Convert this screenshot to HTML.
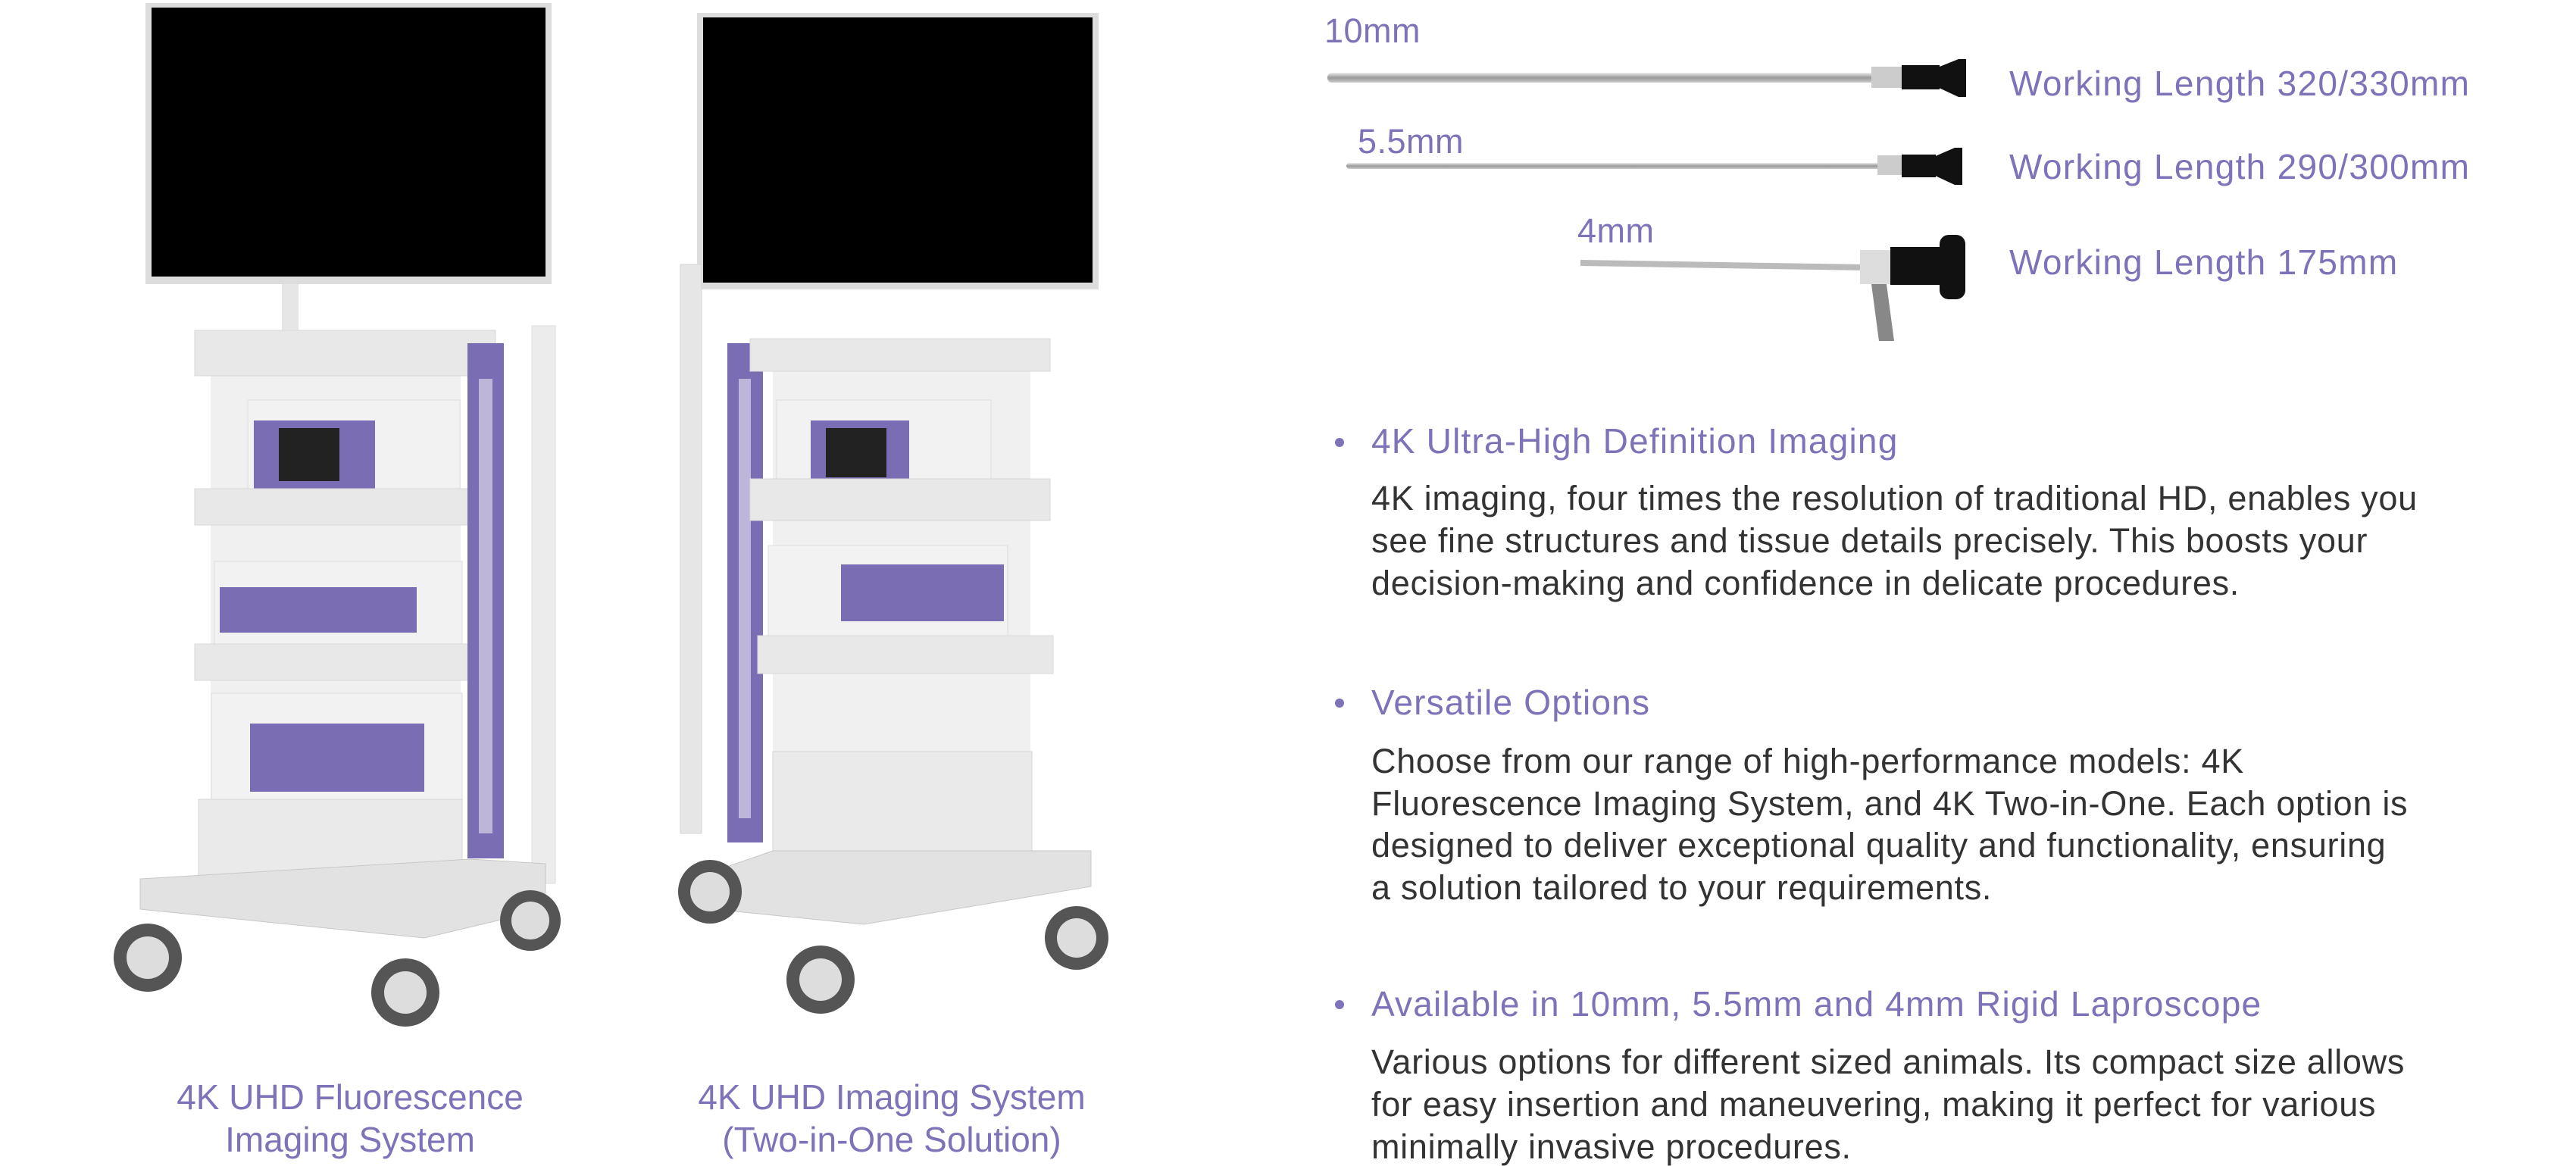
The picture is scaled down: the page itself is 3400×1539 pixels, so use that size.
<!DOCTYPE html>
<html><head><meta charset="utf-8"><style>
html,body{margin:0;padding:0;background:#fff;}
body{width:3400px;height:1533px;position:relative;overflow:hidden;font-family:"Liberation Sans",sans-serif;}
.t{position:absolute;white-space:nowrap;line-height:1;}
.p{color:#7e72b8;}
.b{color:#333;font-size:45px;letter-spacing:0.7px;}
.h{font-size:46px;letter-spacing:1.2px;}
.w{font-size:46px;letter-spacing:1.3px;}
.dot{position:absolute;width:12px;height:12px;border-radius:50%;background:#7e72b8;}
svg{position:absolute;left:0;top:0;}
</style></head><body>
<svg width="3400" height="1533" viewBox="0 0 3400 1533">
<defs>
<linearGradient id="sh" x1="0" y1="0" x2="0" y2="1"><stop offset="0" stop-color="#eee"/><stop offset=".5" stop-color="#999"/><stop offset="1" stop-color="#ccc"/></linearGradient>
</defs>
<!-- cart 1 -->
<rect x="192" y="4" width="536" height="371" fill="#ddd"/>
<rect x="200" y="10" width="520" height="355" fill="#000"/>
<rect x="372" y="375" width="22" height="70" fill="#e6e6e6"/>
<rect x="702" y="430" width="31" height="736" fill="#ececec" stroke="#ddd"/>
<rect x="278" y="470" width="330" height="680" fill="#f0f0f0"/>
<rect x="257" y="436" width="397" height="60" fill="#e8e8e8" stroke="#d8d8d8"/>
<rect x="327" y="528" width="280" height="137" fill="#f2f2f2" stroke="#ddd"/>
<rect x="335" y="555" width="160" height="100" fill="#7b6db3"/>
<rect x="368" y="565" width="80" height="70" fill="#222"/>
<rect x="257" y="645" width="375" height="48" fill="#e8e8e8" stroke="#d8d8d8"/>
<rect x="283" y="741" width="327" height="131" fill="#f2f2f2" stroke="#ddd"/>
<rect x="290" y="775" width="260" height="60" fill="#7b6db3"/>
<rect x="257" y="850" width="375" height="48" fill="#e8e8e8" stroke="#d8d8d8"/>
<rect x="279" y="915" width="331" height="142" fill="#f2f2f2" stroke="#ddd"/>
<rect x="330" y="955" width="230" height="90" fill="#7b6db3"/>
<rect x="262" y="1055" width="348" height="133" fill="#eaeaea" stroke="#d6d6d6"/>
<rect x="617" y="453" width="48" height="680" fill="#7b6db3"/>
<rect x="632" y="500" width="18" height="600" fill="#fff" opacity=".5"/>
<polygon points="185,1160 620,1134 720,1140 720,1200 560,1238 185,1200" fill="#e2e2e2" stroke="#c8c8c8"/>
<g fill="#555"><circle cx="195" cy="1264" r="45"/><circle cx="535" cy="1310" r="45"/><circle cx="700" cy="1215" r="40"/></g>
<g fill="#ddd"><circle cx="195" cy="1264" r="28"/><circle cx="535" cy="1310" r="28"/><circle cx="700" cy="1215" r="25"/></g>
<!-- cart 2 -->
<rect x="920" y="17" width="530" height="365" fill="#ddd"/>
<rect x="928" y="23" width="514" height="350" fill="#000"/>
<rect x="898" y="349" width="28" height="751" fill="#e6e6e6" stroke="#d6d6d6"/>
<rect x="1020" y="470" width="340" height="700" fill="#f0f0f0"/>
<rect x="960" y="453" width="47" height="659" fill="#7b6db3"/>
<rect x="975" y="500" width="16" height="580" fill="#fff" opacity=".5"/>
<rect x="990" y="447" width="396" height="43" fill="#e8e8e8" stroke="#d8d8d8"/>
<rect x="1025" y="528" width="283" height="126" fill="#f2f2f2" stroke="#ddd"/>
<rect x="1070" y="555" width="130" height="90" fill="#7b6db3"/>
<rect x="1090" y="565" width="80" height="65" fill="#222"/>
<rect x="990" y="632" width="396" height="55" fill="#e8e8e8" stroke="#d8d8d8"/>
<rect x="1014" y="720" width="316" height="141" fill="#f2f2f2" stroke="#ddd"/>
<rect x="1110" y="745" width="215" height="75" fill="#7b6db3"/>
<rect x="1000" y="839" width="390" height="50" fill="#e8e8e8" stroke="#d8d8d8"/>
<rect x="1020" y="992" width="342" height="185" fill="#eaeaea" stroke="#d6d6d6"/>
<polygon points="942,1150 1020,1123 1440,1123 1440,1170 1140,1220 942,1200" fill="#e2e2e2" stroke="#c8c8c8"/>
<g fill="#555"><circle cx="937" cy="1177" r="42"/><circle cx="1083" cy="1293" r="45"/><circle cx="1421" cy="1238" r="42"/></g>
<g fill="#ddd"><circle cx="937" cy="1177" r="26"/><circle cx="1083" cy="1293" r="28"/><circle cx="1421" cy="1238" r="26"/></g>
<!-- scopes -->
<rect x="1752" y="96" width="730" height="13" rx="6" fill="url(#sh)"/>
<rect x="2470" y="88" width="40" height="28" fill="#ccc"/>
<rect x="2510" y="86" width="50" height="32" fill="#111"/>
<polygon points="2555,90 2585,78 2595,78 2595,128 2585,128 2555,114" fill="#111"/>
<rect x="1777" y="215" width="710" height="8" rx="4" fill="url(#sh)"/>
<rect x="2478" y="205" width="32" height="26" fill="#ccc"/>
<rect x="2510" y="204" width="45" height="30" fill="#111"/>
<polygon points="2550,208 2580,195 2590,195 2590,244 2580,244 2550,230" fill="#111"/>
<polygon points="2086,343 2460,349 2460,357 2086,351" fill="#bbb"/>
<rect x="2455" y="330" width="40" height="45" fill="#ddd"/>
<polygon points="2470,375 2490,375 2500,450 2480,450" fill="#888"/>
<rect x="2495" y="326" width="70" height="50" fill="#111"/>
<rect x="2560" y="310" width="34" height="85" rx="12" fill="#111"/>
</svg>
<div class="t p" style="left:1748px;top:18px;font-size:45px;letter-spacing:0.5px;">10mm</div>
<div class="t p" style="left:1792px;top:164px;font-size:45px;letter-spacing:0.5px;">5.5mm</div>
<div class="t p" style="left:2082px;top:282px;font-size:45px;letter-spacing:0.5px;">4mm</div>
<div class="t p w" style="left:2652px;top:87px;">Working Length 320/330mm</div>
<div class="t p w" style="left:2652px;top:197px;">Working Length 290/300mm</div>
<div class="t p w" style="left:2652px;top:323px;">Working Length 175mm</div>

<div class="dot" style="left:1762px;top:578px;"></div>
<div class="t p h" style="left:1810px;top:559px;">4K Ultra-High Definition Imaging</div>
<div class="t b" style="left:1810px;top:635px;">4K imaging, four times the resolution of traditional HD, enables you</div>
<div class="t b" style="left:1810px;top:691px;">see fine structures and tissue details precisely. This boosts your</div>
<div class="t b" style="left:1810px;top:747px;">decision-making and confidence in delicate procedures.</div>

<div class="dot" style="left:1762px;top:922px;"></div>
<div class="t p h" style="left:1810px;top:904px;">Versatile Options</div>
<div class="t b" style="left:1810px;top:982px;">Choose from our range of high-performance models: 4K</div>
<div class="t b" style="left:1810px;top:1038px;">Fluorescence Imaging System, and 4K Two-in-One. Each option is</div>
<div class="t b" style="left:1810px;top:1093px;">designed to deliver exceptional quality and functionality, ensuring</div>
<div class="t b" style="left:1810px;top:1149px;">a solution tailored to your requirements.</div>

<div class="dot" style="left:1762px;top:1320px;"></div>
<div class="t p h" style="left:1810px;top:1302px;">Available in 10mm, 5.5mm and 4mm Rigid Laproscope</div>
<div class="t b" style="left:1810px;top:1379px;">Various options for different sized animals. Its compact size allows</div>
<div class="t b" style="left:1810px;top:1435px;">for easy insertion and maneuvering, making it perfect for various</div>
<div class="t b" style="left:1810px;top:1491px;">minimally invasive procedures.</div>

<div class="t p" style="left:212px;width:500px;text-align:center;top:1420px;font-size:46px;line-height:56px;">4K UHD Fluorescence<br>Imaging System</div>
<div class="t p" style="left:877px;width:600px;text-align:center;top:1420px;font-size:46px;line-height:56px;">4K UHD Imaging System<br>(Two-in-One Solution)</div>
</body></html>
